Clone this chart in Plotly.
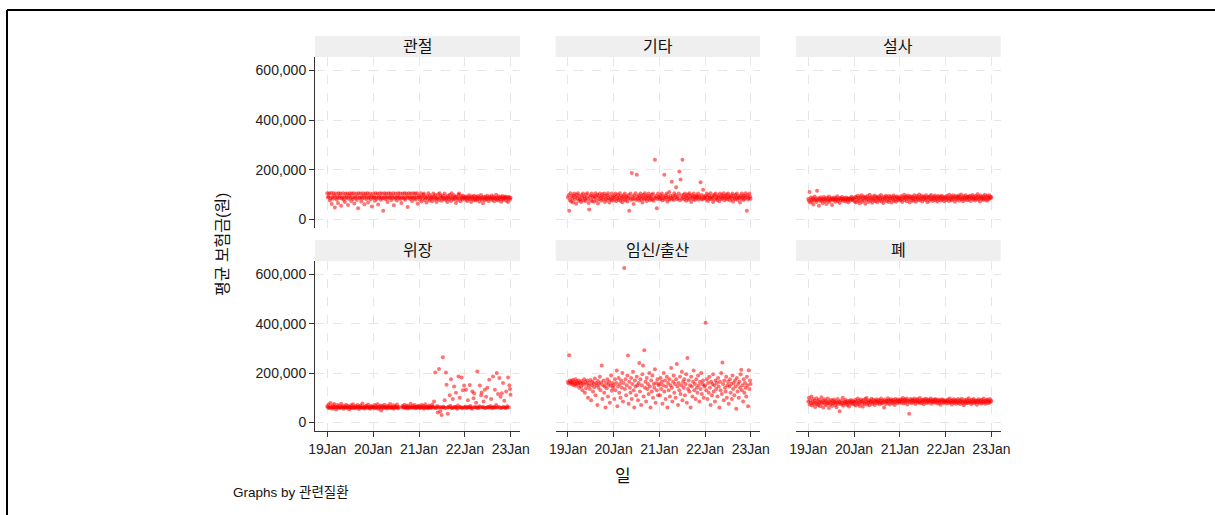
import plotly.graph_objects as go
import pandas as pd

# ---------------- data (values in thousand won) ----------------
panel_names = ["관절", "기타", "설사", "위장", "임신/출산", "폐"]
start_date = "2019-01-01"
n_days = 293
step = "5D"

joint = [
105,88,92,104,76,85,106,62,90,83,105,95,48,87,104,80,91,66,105,86,
93,104,55,84,88,105,79,92,70,104,86,90,104,58,83,95,105,87,74,104,
89,82,105,64,91,86,104,78,93,45,105,85,88,104,72,90,84,105,96,61,
87,104,82,92,105,68,86,90,104,80,95,52,88,
104,86,91,75,105,88,83,104,60,92,87,105,79,90,104,84,35,88,105,93,
81,104,87,70,92,105,85,89,104,78,94,86,105,57,90,83,104,88,76,92,
105,85,90,104,82,66,88,104,91,84,105,79,87,104,93,50,86,105,89,82,
104,90,74,87,105,84,92,104,80,88,105,63,90,
95,80,88,105,72,92,84,99,104,78,90,86,68,94,82,105,88,76,97,84,
90,73,86,104,92,80,98,85,70,89,83,101,78,105,87,93,75,88,96,82,
86,104,79,91,84,70,95,87,81,99,88,74,105,85,92,80,97,83,89,66,
91,78,86,100,104,84,73,93,87,80,96,85,89,
88,79,92,84,74,90,86,97,81,87,70,93,84,89,78,95,83,76,91,86,
80,94,85,72,89,84,98,79,87,65,90,83,77,92,86,81,95,84,74,88,
90,82,86,96,78,85,91,73,87,84,99,80,88,76,93,85,82,90,71,87,
94,83,79,89,86,92,75,88,84,70,91,85,80,87]

other = [
88,97,35,78,105,72,93,84,68,96,104,80,90,63,99,86,105,75,94,82,
79,70,98,88,104,76,92,83,74,100,87,105,81,66,40,91,96,78,104,73,
89,95,71,86,105,92,77,99,64,94,82,104,87,75,93,101,80,88,104,70,
95,83,78,97,105,86,68,81,92,79,104,76,90,
87,96,80,104,73,92,84,99,78,88,105,75,94,83,69,90,97,81,104,77,
89,93,72,85,98,35,86,104,79,187,92,82,62,96,84,105,78,180,91,83,
97,76,88,104,81,94,68,87,99,80,105,85,92,74,95,82,104,89,77,93,
84,99,80,104,75,88,240,86,95,45,82,104,90,
90,81,96,84,104,76,93,86,180,80,97,88,104,72,91,83,110,79,95,87,
151,82,94,78,105,89,97,129,81,92,85,104,193,77,160,96,83,240,88,99,
80,104,90,75,94,86,100,79,105,84,93,70,97,88,81,104,92,78,89,96,
85,91,104,79,94,88,149,83,98,80,119,92,86,
86,95,79,104,90,74,97,83,88,105,81,92,86,70,94,99,80,104,85,91,
78,96,87,73,104,90,82,98,85,93,105,77,89,95,84,100,80,104,88,92,
76,89,97,83,104,72,94,86,81,99,88,104,79,93,85,90,68,96,82,104,
87,93,78,95,84,105,90,35,97,80,86,104,92,83]

diarrhea = [
82,75,110,68,88,79,72,85,60,80,92,76,84,70,115,78,86,55,81,74,
89,77,83,65,80,90,73,84,78,62,87,80,75,92,70,83,79,86,58,81,
76,88,82,71,85,79,93,74,80,84,66,87,78,82,90,75,83,79,86,72,
81,88,77,84,69,83,80,86,76,91,82,78,85,
83,72,91,68,88,79,95,74,86,65,90,80,97,71,84,92,76,87,63,89,
78,94,82,70,86,99,75,88,81,67,92,84,77,96,73,85,90,69,87,80,
93,76,84,98,72,88,81,66,91,79,86,95,74,89,83,70,94,78,85,92,
68,87,80,96,75,90,83,71,88,93,77,85,82,
88,76,94,81,70,90,85,99,78,87,92,73,86,96,80,89,68,93,84,77,
91,86,74,97,82,88,71,94,85,79,90,100,76,87,83,95,72,89,81,92,
86,78,97,84,69,90,88,75,93,82,98,80,87,74,91,85,96,77,89,83,
72,94,86,79,92,88,76,95,81,90,84,73,87,
90,78,95,83,87,74,99,86,80,92,76,88,97,82,89,71,94,85,79,91,
87,96,75,90,84,100,81,88,73,93,86,79,97,84,90,77,92,88,82,95,
74,89,86,98,80,91,85,76,94,83,88,101,79,92,86,72,96,84,89,81,
93,78,87,99,82,90,75,94,86,80,97,85,91,88]

stomach = [
65,60,72,58,60,78,62,60,55,68,60,74,60,63,52,60,70,61,60,66,
58,60,75,62,60,67,55,60,64,60,71,59,60,66,60,52,63,60,69,58,
60,73,61,60,57,65,60,62,70,60,54,63,60,68,59,60,76,61,60,56,
64,60,67,60,59,72,60,62,55,60,66,61,60,
62,60,70,57,60,65,60,73,55,60,63,60,68,48,60,66,60,59,71,60,
62,60,56,67,60,64,60,74,58,60,62,60,69,55,60,65,60,61,72,60,
57,63,None,None,None,None,60,66,62,60,71,58,60,64,60,68,56,60,63,60,
75,60,59,66,60,62,70,60,57,64,60,61,67,
60,64,58,60,70,62,60,66,55,60,73,61,60,63,57,60,68,60,62,59,
60,71,64,60,85,60,202,58,60,66,40,60,216,62,45,60,30,60,264,63,
60,90,58,202,152,60,35,62,60,110,67,175,60,57,95,60,145,63,60,120,
60,55,68,186,60,100,62,60,182,58,130,60,149,
60,64,132,58,60,90,62,60,151,66,60,55,125,60,98,118,62,60,80,60,
206,58,60,65,149,60,110,121,62,60,85,60,132,58,104,60,140,62,60,173,
60,66,95,60,58,186,62,60,132,60,70,200,60,115,62,180,60,104,58,118,
60,160,62,88,60,58,125,60,65,182,60,150,135,112]

pregnancy = [
165,158,272,170,162,155,168,160,172,150,163,157,175,148,166,160,154,170,140,162,
158,145,168,130,160,152,175,120,164,138,155,170,100,148,160,135,172,90,150,165,
125,158,142,178,110,160,150,70,168,140,155,185,130,162,230,95,150,170,120,145,
60,160,138,175,105,152,165,80,148,190,128,160,140,
150,95,175,130,160,210,65,145,180,120,155,100,170,140,200,85,160,626,135,175,
110,150,190,271,75,165,140,120,180,95,155,205,130,60,170,145,110,185,150,90,
160,241,125,175,70,150,195,230,105,292,140,165,85,180,135,155,115,200,145,60,
170,125,190,100,155,140,215,80,160,130,175,110,150,
155,110,180,135,165,75,150,200,125,170,95,145,185,60,160,130,175,105,150,220,
140,85,165,190,120,155,100,175,237,145,70,160,130,185,115,150,205,90,165,140,
175,110,155,195,80,261,135,170,125,150,60,185,145,105,165,210,130,155,95,175,
140,120,190,150,85,165,135,200,115,155,170,100,145,
150,404,130,175,95,160,120,185,140,70,165,110,155,195,125,150,85,170,135,160,
105,180,145,60,165,130,200,115,243,155,90,170,140,125,185,100,150,165,75,145,
175,120,155,95,190,135,160,110,170,145,55,180,125,155,100,165,140,195,213,130,
150,85,175,120,160,140,105,185,150,65,211,135,170,155]

lung = [
85,100,72,90,78,105,68,82,95,75,88,62,80,98,73,86,70,92,79,65,
84,102,76,88,60,81,94,74,87,69,83,97,77,58,85,72,91,80,66,88,
76,93,82,70,86,61,79,95,74,84,45,81,89,72,78,100,67,85,80,92,
75,83,70,88,79,64,86,77,91,82,73,87,80,
84,72,92,68,86,79,97,74,88,66,83,93,77,86,63,91,80,74,95,84,
99,71,85,78,90,69,87,82,96,75,85,92,79,70,88,84,94,76,86,81,
91,73,87,97,80,77,89,85,60,93,82,74,88,86,98,79,90,72,87,94,
81,88,76,92,84,70,95,83,89,78,93,86,80,
88,94,79,91,84,99,76,89,93,81,87,97,72,90,86,35,83,95,78,89,
92,80,88,97,84,74,91,86,95,79,89,82,99,85,77,92,84,90,73,94,
83,88,96,78,87,92,81,85,90,97,75,88,83,93,86,79,91,95,82,89,
76,87,93,80,88,71,86,94,83,91,78,89,84,
84,90,76,86,93,79,85,97,81,88,72,89,83,94,78,86,91,75,87,82,
95,80,88,74,90,84,96,78,85,69,91,82,87,77,93,80,86,98,79,88,
84,74,92,81,87,95,77,86,83,90,71,88,82,94,79,86,89,76,92,84,
80,97,83,87,75,90,85,93,78,86,81,95,84,88]

x_tick_dates = ["2019-01-01", "2020-01-01", "2021-01-01", "2022-01-01", "2023-01-01"]
x_tick_labels = ["19Jan", "20Jan", "21Jan", "22Jan", "23Jan"]
y_tick_vals = [0, 200000, 400000, 600000]
y_tick_labels = ["0", "200,000", "400,000", "600,000"]

y_title = "평균 보험금(원)"
x_title = "일"
note = "Graphs by 관련질환"

# ---------------- figure ----------------
W, H = 1215, 515
series = [joint, other, diarrhea, stomach, pregnancy, lung]
dates = pd.date_range(start_date, periods=n_days, freq=step)

FONT = "Arial, 'Liberation Sans', 'Noto Sans CJK KR', sans-serif"
col_px = [(315, 520), (555.7, 760), (796, 1000.7)]
row_px = [(57, 228), (261, 431)]
strip_px = [(36, 57), (240, 261)]

def px_x(v):
    return v / W

def px_y(v):
    return 1 - v / H

fig = go.Figure()
layout = {}
shapes = []
annotations = []

for k, (name, vals) in enumerate(zip(panel_names, series)):
    r, c = divmod(k, 3)
    ax = "" if k == 0 else str(k + 1)
    yv = [None if v is None else v * 1000 for v in vals]
    fig.add_trace(go.Scatter(
        x=dates, y=yv, mode="markers",
        marker=dict(color="rgba(255,0,0,0.55)", size=4, line=dict(width=0)),
        xaxis="x" + ax, yaxis="y" + ax, showlegend=False, hoverinfo="skip"))
    x0, x1 = col_px[c]
    y0, y1 = row_px[r]
    layout["xaxis" + ax] = dict(
        domain=[px_x(x0), px_x(x1)], anchor="y" + ax, type="date",
        range=["2018-09-25", "2023-03-16"],
        tickvals=x_tick_dates, ticktext=x_tick_labels,
        showticklabels=(r == 1), ticks="outside" if r == 1 else "",
        ticklen=5, tickcolor="#333",
        showline=(r == 1), linecolor="#333", linewidth=1,
        showgrid=True, gridcolor="#e6e6e6", griddash="dash", gridwidth=1,
        zeroline=False, tickfont=dict(family=FONT, size=14, color="#222"))
    layout["yaxis" + ax] = dict(
        domain=[px_y(y1), px_y(y0)], anchor="x" + ax,
        range=[-35000, 654000],
        tickvals=y_tick_vals, ticktext=y_tick_labels,
        showticklabels=(c == 0), ticks="outside" if c == 0 else "",
        ticklen=5, tickcolor="#333",
        showline=(c == 0), linecolor="#333", linewidth=1,
        showgrid=True, gridcolor="#e6e6e6", griddash="dash", gridwidth=1,
        zeroline=False, tickfont=dict(family=FONT, size=14, color="#222"))
    sy0, sy1 = strip_px[r]
    shapes.append(dict(type="rect", xref="paper", yref="paper",
                       x0=px_x(x0), x1=px_x(x1), y0=px_y(sy1), y1=px_y(sy0),
                       fillcolor="#efefef", line=dict(width=0), layer="below"))
    annotations.append(dict(text=name, xref="paper", yref="paper",
                            x=px_x((x0 + x1) / 2), y=px_y((sy0 + sy1) / 2),
                            showarrow=False, xanchor="center", yanchor="middle",
                            font=dict(family=FONT, size=16, color="#111")))

# outer frame (top and left edges)
shapes.append(dict(type="line", xref="paper", yref="paper",
                   x0=px_x(7), x1=1, y0=px_y(10), y1=px_y(10),
                   line=dict(color="black", width=2)))
shapes.append(dict(type="line", xref="paper", yref="paper",
                   x0=px_x(7), x1=px_x(7), y0=px_y(10), y1=0,
                   line=dict(color="black", width=2)))

annotations.append(dict(text=y_title, xref="paper", yref="paper",
                        x=px_x(222), y=px_y(245), textangle=-90, showarrow=False,
                        xanchor="center", yanchor="middle",
                        font=dict(family=FONT, size=16, color="#111")))
annotations.append(dict(text=x_title, xref="paper", yref="paper",
                        x=px_x(623), y=px_y(476), showarrow=False,
                        xanchor="center", yanchor="middle",
                        font=dict(family=FONT, size=17, color="#111")))
annotations.append(dict(text=note, xref="paper", yref="paper",
                        x=px_x(231), y=px_y(492), showarrow=False,
                        xanchor="left", yanchor="middle",
                        font=dict(family=FONT, size=13.5, color="#111")))

fig.update_layout(width=W, height=H, autosize=False,
                  margin=dict(l=0, r=0, t=0, b=0, autoexpand=False),
                  paper_bgcolor="white", plot_bgcolor="white",
                  shapes=shapes, annotations=annotations, **layout)

fig.write_html(
    "out.html",
    config={"displayModeBar": False, "responsive": False},
    post_script=(
        "document.documentElement.style.margin='0';"
        "document.documentElement.style.padding='0';"
        "document.documentElement.style.overflow='hidden';"
        "document.body.style.margin='0';"
        "document.body.style.padding='0';"
        "document.body.style.overflow='hidden';"
    ),
)
